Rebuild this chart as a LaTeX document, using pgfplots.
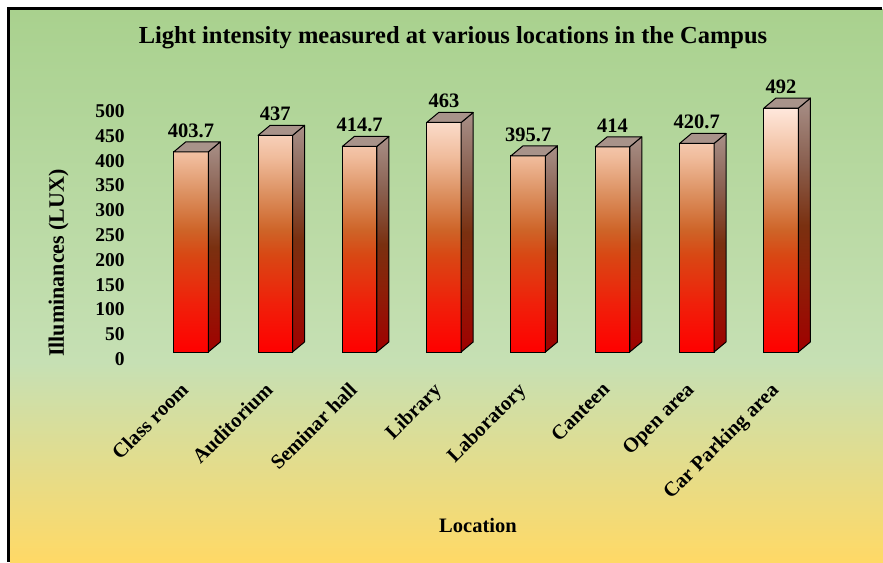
\documentclass[border=0pt]{standalone}
\usepackage{pgfplots}
\pgfplotsset{compat=1.18}
\usepackage{fontspec}
\setmainfont{Liberation Serif}
\definecolor{bgtop}{HTML}{A9D18E}
\definecolor{bgmid}{HTML}{C6E0B4}
\definecolor{bgbot}{HTML}{FFD966}
\definecolor{f0}{HTML}{FF0000}
\definecolor{f1}{HTML}{F0200A}
\definecolor{f2}{HTML}{D84814}
\definecolor{f3}{HTML}{CE6428}
\definecolor{f4}{HTML}{DC9060}
\definecolor{f5}{HTML}{F0BC9C}
\definecolor{f6}{HTML}{FFE8DC}
\definecolor{s0}{HTML}{A00000}
\definecolor{s1}{HTML}{8C2008}
\definecolor{s2}{HTML}{7A3010}
\definecolor{s3}{HTML}{8A6050}
\definecolor{s4}{HTML}{A89088}
\definecolor{topc}{HTML}{A8938A}
\pgfdeclareverticalshading{barfront}{100bp}{color(0bp)=(f0); color(25bp)=(f0); color(35bp)=(f1); color(45bp)=(f2); color(50bp)=(f3); color(57.5bp)=(f4); color(65bp)=(f5); color(75bp)=(f6); color(100bp)=(f6)}
\pgfdeclareverticalshading{barside}{100bp}{color(0bp)=(s0); color(25bp)=(s0); color(40bp)=(s1); color(50bp)=(s2); color(62.5bp)=(s3); color(75bp)=(s4); color(100bp)=(s4)}
\pgfdeclareplotmark{emptymark}{}
\newcommand{\lblfont}{\bfseries\fontsize{20.5}{24}\selectfont}
\begin{document}
\begin{tikzpicture}
\useasboundingbox (0,0) rectangle (883pt,562pt);
\fill[white] (0,0) rectangle (883pt,562pt);
\shade[top color=bgtop, bottom color=bgmid] (10pt,199pt) rectangle (883pt,552pt);
\shade[top color=bgmid, bottom color=bgbot] (10pt,0pt) rectangle (883pt,199.5pt);
\fill[black] (7pt,552pt) rectangle (882pt,555pt);
\fill[black] (7pt,0pt) rectangle (10pt,555pt);
\begin{axis}[
  at={(148.85pt,210pt)}, anchor=south west,
  x=84.3pt, y=0.4957pt,
  xmin=-0.5, xmax=7.5, ymin=0, ymax=520,
  clip=false,
  axis line style={draw=none},
  major tick length=0pt,
  /pgf/number format/assume math mode=true,
  xtick={0,...,7},
  xticklabels={Class room,Auditorium,Seminar hall,Library,Laboratory,Canteen,Open area,Car Parking area},
  ytick={0,50,...,500},
  tick label style={inner sep=0pt},
  xticklabel style={font=\lblfont, yshift=-29pt, xshift=-11.5pt, rotate=45, anchor=north east},
  yticklabel style={font=\bfseries\fontsize{19.5}{23}\selectfont, anchor=east, xshift=-24pt, yshift=-7pt},
  title={Light intensity measured at various locations in the Campus},
  title style={at={(axis description cs:0.451,1.175)}, anchor=base, font=\bfseries\fontsize{24.5}{28}\selectfont, inner sep=0pt},
  xlabel={Location},
  xlabel style={at={(axis description cs:0.488,-0.702)}, anchor=base, font=\lblfont, inner sep=0pt},
  ylabel={Illuminances (LUX)},
  ylabel style={at={(axis description cs:-0.134,0.345)}, anchor=center, font=\bfseries\fontsize{22}{26}\selectfont, inner sep=0pt},
]
\addplot[ybar, bar width=34.5pt, bar shift=0pt, draw=black, line width=1pt, shading=barfront,
  nodes near coords,
  nodes near coords style={anchor=base, yshift=14.5pt, font=\lblfont, inner sep=0pt, text=black}]
  coordinates {(0,403.7) (1,437) (2,414.7) (3,463) (4,395.7) (5,414) (6,420.7) (7,492)};
\addplot[scatter, only marks, mark=emptymark,
  visualization depends on={rawy \as \rawy},
  scatter/@pre marker code/.code={%
    \pgfmathsetmacro\hb{10-\rawy*0.4957}%
    \pgfmathsetmacro\hf{-\rawy*0.4957}%
    \path[shading=barside, draw=black, line width=1pt, line join=round]
      (17.25pt,0pt) -- (29.25pt,10pt) -- (29.25pt,\hb pt) -- (17.25pt,\hf pt) -- cycle;
    \path[fill=topc, draw=black, line width=1pt, line join=round]
      (-17.25pt,0pt) -- (17.25pt,0pt) -- (29.25pt,10pt) -- (-5.25pt,10pt) -- cycle;
  },
  scatter/@post marker code/.code={}]
  coordinates {(0,403.7) (1,437) (2,414.7) (3,463) (4,395.7) (5,414) (6,420.7) (7,492)};
\end{axis}
\end{tikzpicture}
\end{document}
